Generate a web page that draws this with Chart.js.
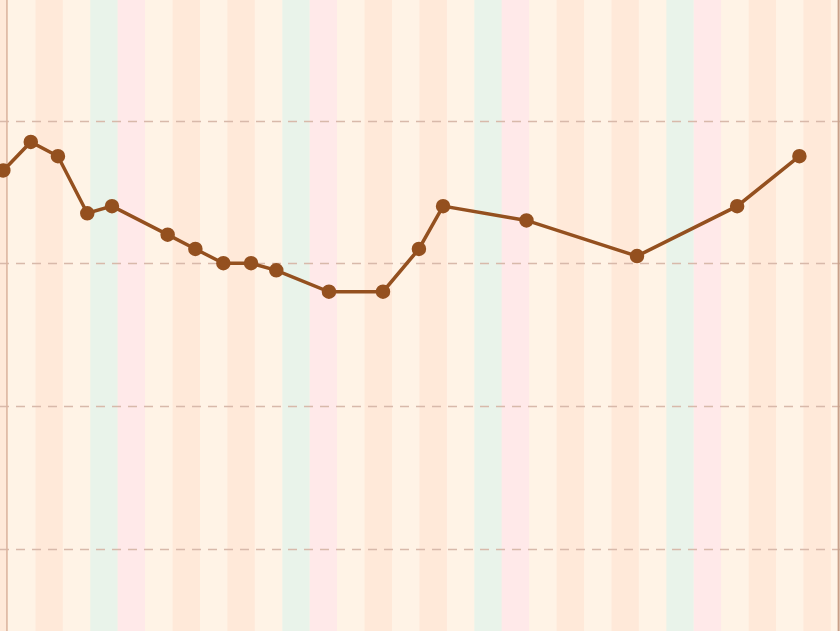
<!DOCTYPE html>
<html>
<head>
<meta charset="utf-8">
<script src="https://cdn.jsdelivr.net/npm/chart.js@4/dist/chart.umd.min.js"></script>
<style>
	html, body {
		margin: 0;
		padding: 0;
		background: #fff3e6;
	}
	.chart-box {
		width: 840px;
		height: 631px;
	}
</style>
</head>
<body>
<div class="chart-box">
	<canvas id="price-line-chart"></canvas>
</div>
<script>
// day offsets (day 0 = a Wednesday) and values
const dayOffsets = [-0.17, 0.83, 1.82, 2.89, 3.79, 5.82, 6.83, 7.85, 8.86, 9.78,
	11.7, 13.67, 14.98, 15.86, 18.9, 22.93, 26.58, 28.85];
const values = [36.5, 38.5, 37.5, 33.5, 34, 32, 31, 30, 30, 29.5,
	28, 28, 31, 34, 33, 30.5, 34, 37.5];
const yTicks = [10, 20, 30, 40];
// weekday fill, starting on Monday
const weekdayFills = ['#fff3e6', '#ffe9d9', '#fff3e6', '#ffe9d9', '#fff3e6', '#e9f3ea', '#ffe9e9'];
const firstWeekday = 2; // day 0 is Wednesday
const rangeStart = -0.04;
const rangeEnd = 30.28;

const dayStripes = {
	id: 'dayStripes',
	beforeDatasetsDraw(chart) {
		const { ctx, chartArea, scales } = chart;
		const x = scales.x;
		ctx.save();
		for (let d = Math.floor(x.min); d < x.max; d++) {
			const left = x.getPixelForValue(d);
			const right = x.getPixelForValue(d + 1);
			const wd = (((d + firstWeekday) % 7) + 7) % 7;
			ctx.fillStyle = weekdayFills[wd];
			ctx.fillRect(left, chartArea.top, right - left, chartArea.bottom - chartArea.top);
		}
		// dashed grid over the stripes
		ctx.strokeStyle = '#d8b9aa';
		ctx.lineWidth = 1.5;
		ctx.setLineDash([9, 7]);
		yTicks.forEach((v) => {
			const py = Math.round(scales.y.getPixelForValue(v)) + 0.5;
			ctx.beginPath();
			ctx.moveTo(chartArea.left, py);
			ctx.lineTo(chartArea.right, py);
			ctx.stroke();
		});
		ctx.setLineDash([]);
		ctx.strokeStyle = '#dbb39f';
		ctx.lineWidth = 1.5;
		let px = x.getPixelForValue(rangeStart);
		ctx.beginPath();
		ctx.moveTo(px, chartArea.top);
		ctx.lineTo(px, chartArea.bottom);
		ctx.stroke();
		ctx.strokeStyle = '#c79f88';
		ctx.lineWidth = 2;
		px = x.getPixelForValue(rangeEnd);
		ctx.beginPath();
		ctx.moveTo(px, chartArea.top);
		ctx.lineTo(px, chartArea.bottom);
		ctx.stroke();
		ctx.restore();
	},
};

new Chart(document.getElementById('price-line-chart'), {
	type: 'line',
	data: {
		datasets: [
			{
				data: dayOffsets.map((d, i) => ({ x: d, y: values[i] })),
				borderColor: '#94501f',
				backgroundColor: '#94501f',
				borderWidth: 3.5,
				pointRadius: 5.5,
				pointHoverRadius: 5.5,
				tension: 0,
			},
		],
	},
	options: {
		responsive: true,
		maintainAspectRatio: false,
		animation: false,
		layout: { padding: 0, autoPadding: false },
		plugins: {
			legend: { display: false },
			tooltip: { enabled: false },
		},
		scales: {
			x: {
				type: 'linear',
				display: false,
				min: -0.292,
				max: 30.33,
			},
			y: {
				display: false,
				min: 4.22,
				max: 48.45,
				afterBuildTicks: (scale) => {
					scale.ticks = yTicks.map((v) => ({ value: v }));
				},
			},
		},
	},
	plugins: [dayStripes],
});
</script>
</body>
</html>
